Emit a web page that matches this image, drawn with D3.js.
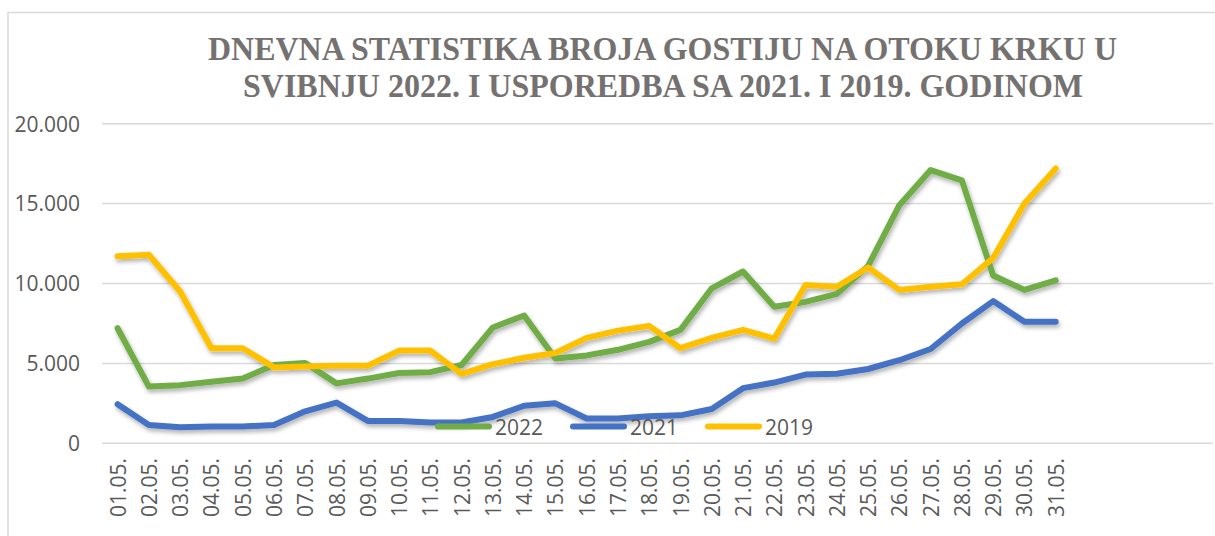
<!DOCTYPE html>
<html>
<head>
<meta charset="utf-8">
<script src="https://cdn.jsdelivr.net/npm/d3@7"></script>
<style>
  html, body { margin: 0; padding: 0; background: #fff; }
  svg { display: block; }
</style>
</head>
<body>
<svg id="chart" width="1215" height="536"></svg>
<script>
const days = ["01.05.","02.05.","03.05.","04.05.","05.05.","06.05.","07.05.","08.05.","09.05.","10.05.",
  "11.05.","12.05.","13.05.","14.05.","15.05.","16.05.","17.05.","18.05.","19.05.","20.05.",
  "21.05.","22.05.","23.05.","24.05.","25.05.","26.05.","27.05.","28.05.","29.05.","30.05.","31.05."];
const values2022 = [7200,3550,3640,3850,4050,4900,5030,3750,4050,4400,
  4450,4900,7250,8000,5300,5500,5850,6350,7100,9700,
  10750,8550,8850,9350,11100,14900,17100,16450,10500,9600,10200];
const values2021 = [2450,1150,1000,1050,1050,1150,2000,2550,1400,1400,
  1300,1300,1650,2350,2500,1550,1550,1700,1750,2150,
  3450,3800,4300,4350,4650,5200,5900,7500,8900,7600,7600];
const values2019 = [11700,11800,9500,5950,5950,4750,4800,4850,4850,5800,
  5800,4350,4950,5350,5650,6600,7050,7350,5950,6600,
  7100,6550,9900,9800,11000,9600,9800,9950,11600,15000,17200];
const yTicks = [0,5000,10000,15000,20000];
const titleLines = ["DNEVNA STATISTIKA BROJA GOSTIJU NA OTOKU KRKU U",
  "SVIBNJU 2022. I USPOREDBA SA 2021. I 2019. GODINOM"];
const seriesNames = ["2022","2021","2019"];
const seriesColors = ["#70AD47","#4472C4","#FFC000"];

const svg = d3.select("#chart");
const defs = svg.append("defs");
const f = defs.append("filter").attr("id","shadow").attr("x","-5%").attr("y","-20%").attr("width","110%").attr("height","140%");
f.append("feDropShadow").attr("dx",1.5).attr("dy",3).attr("stdDeviation",2).attr("flood-color","#000").attr("flood-opacity",0.3);

// frame
svg.append("rect").attr("x",8).attr("y",12.5).attr("width",1220).attr("height",540)
  .attr("fill","none").attr("stroke","#d9d9d9").attr("stroke-width",1.5);

const plotLeft = 102, plotRight = 1213;
const x = d3.scalePoint().domain(days).range([117.6, 1055.7]);
const y = d3.scaleLinear().domain([0,20000]).range([443.3, 123.7]);

// title
const tw = [909, 840];
const tx = [208, 243];
const ty = [60, 97];
titleLines.forEach((t,i)=>{
  svg.append("text").attr("x",tx[i]).attr("y",ty[i])
    .attr("font-family","'Liberation Serif', 'Times New Roman', serif")
    .attr("font-weight","bold").attr("font-size",33).attr("fill","#757171")
    .attr("textLength",tw[i]).attr("lengthAdjust","spacingAndGlyphs")
    .text(t);
});

// gridlines
const fmt = v => d3.format(",")(v).replace(/,/g,".");
svg.append("g").selectAll("line").data(yTicks).join("line")
  .attr("x1",plotLeft).attr("x2",plotRight)
  .attr("y1",d=>y(d)).attr("y2",d=>y(d))
  .attr("stroke","#d9d9d9").attr("stroke-width",1.5);

// y axis labels
const yAxis = d3.axisLeft(y).tickValues(yTicks).tickFormat(fmt).tickSize(0).tickPadding(0);
const gy = svg.append("g").attr("transform","translate(80,0)").call(yAxis);
gy.select(".domain").remove();
gy.selectAll("text").attr("font-family","'Open Sans', sans-serif").attr("font-size",21)
  .attr("fill","#595959").attr("dy","0.35em");

// x axis labels
const xAxis = d3.axisBottom(x).tickSize(0).tickPadding(0);
const gx = svg.append("g").attr("transform","translate(0,458)").call(xAxis);
gx.select(".domain").remove();
gx.selectAll("text").attr("font-family","'Open Sans', sans-serif").attr("font-size",21)
  .attr("fill","#595959")
  .attr("transform","rotate(-90)").attr("text-anchor","end")
  .attr("x",0).attr("y",0).attr("dy","0.36em");

// lines
const line = d3.line().x((d,i)=>x(days[i])).y(d=>y(d));
const allSeries = [values2022, values2021, values2019];
const g = svg.append("g").attr("filter","url(#shadow)");
// draw order: 2022 bottom? check overlaps: 2019 appears on top of 2022
[values2022, values2021, values2019].forEach((vals,i)=>{
  g.append("path").datum(vals).attr("d",line)
    .attr("fill","none").attr("stroke",seriesColors[i]).attr("stroke-width",6)
    .attr("stroke-linejoin","round").attr("stroke-linecap","round");
});

// legend
const legX = [435, 570, 705];
const lg = svg.append("g");
seriesNames.forEach((n,i)=>{
  lg.append("line").attr("x1",legX[i]+3).attr("x2",legX[i]+54).attr("y1",426.5).attr("y2",426.5)
    .attr("stroke",seriesColors[i]).attr("stroke-width",6).attr("stroke-linecap","round");
  lg.append("text").attr("x",legX[i]+60).attr("y",434.5)
    .attr("font-family","'Open Sans', sans-serif").attr("font-size",21).attr("fill","#595959")
    .text(n);
});
</script>
</body>
</html>
